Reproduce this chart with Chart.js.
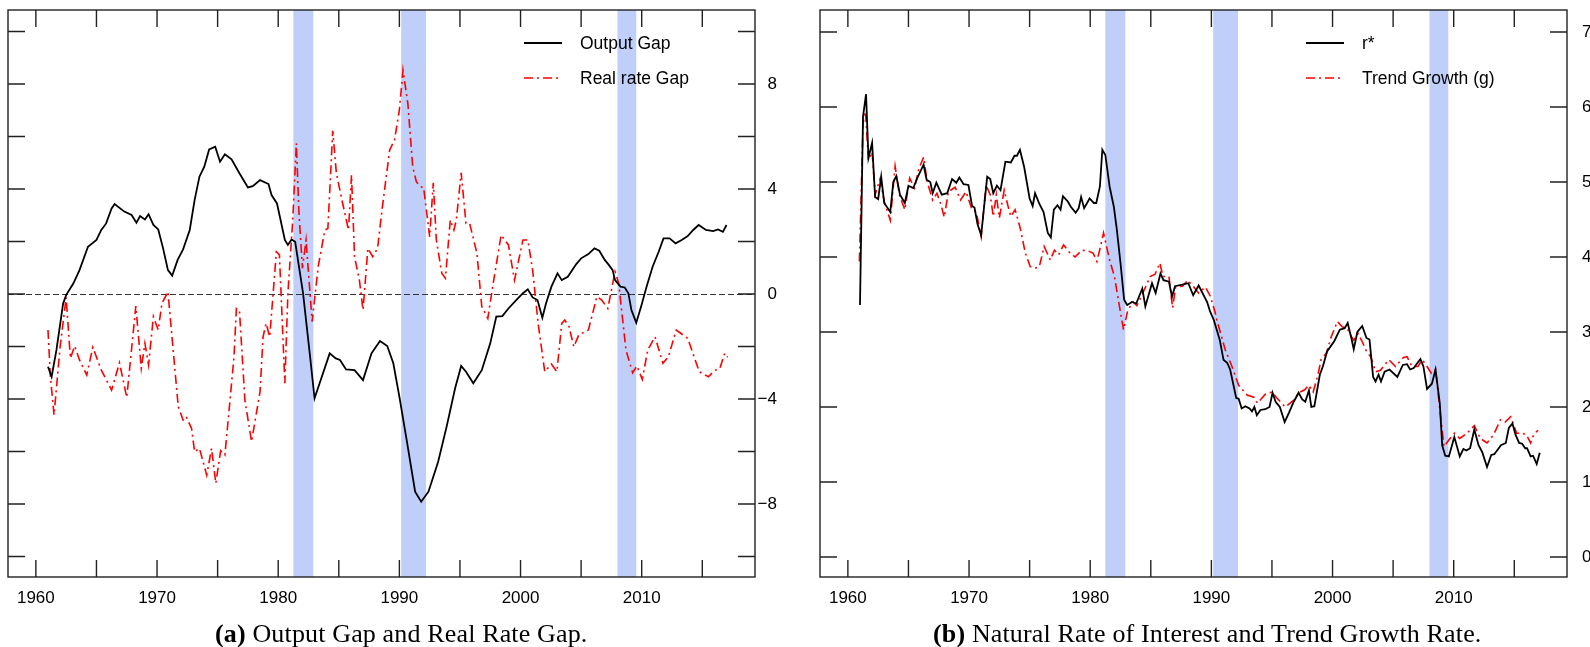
<!DOCTYPE html>
<html>
<head>
<meta charset="utf-8">
<script src="https://cdn.jsdelivr.net/npm/chart.js@4"></script>
<style>
  body { margin: 0; background: #fff; }
  canvas { position: absolute; top: 0; }
  .cap { position: absolute; top: 621px; font: 26px/26px "Liberation Serif", serif; letter-spacing: 0.15px; color: #000; white-space: nowrap; }
</style>
</head>
<body>
<canvas id="gap" width="790" height="620" style="left:0"></canvas>
<canvas id="nat" width="800" height="620" style="left:790px"></canvas>
<div class="cap" style="left:215px"><b>(a)</b> Output Gap and Real Rate Gap.</div>
<div class="cap" style="left:933px"><b>(b)</b> Natural Rate of Interest and Trend Growth Rate.</div>
<script>
// recessions (shaded)
var recStart = [1981.25, 1990.15, 2008.0];
var recEnd = [1982.9, 1992.2, 2009.55];

var xTickYears = [1960, 1965, 1970, 1975, 1980, 1985, 1990, 1995, 2000, 2005, 2010, 2015];
var gapTicks = [-10, -8, -6, -4, -2, 0, 2, 4, 6, 8, 10];
var natTicks = [0, 1, 2, 3, 4, 5, 6, 7];

// panel (a)
var gapYears = [1961.0, 1961.3, 1961.7, 1962.25, 1962.5, 1963.1, 1963.6, 1964.3, 1965.0, 1965.4, 1965.8, 1966.25, 1966.5,
  1967.3, 1967.9, 1968.3, 1968.6, 1969.0, 1969.3, 1969.7, 1970.1, 1970.5, 1970.9, 1971.25, 1971.7, 1972.15, 1972.7,
  1973.1, 1973.5, 1973.9, 1974.3, 1974.8, 1975.2, 1975.6, 1976.15, 1976.8, 1977.5, 1977.9, 1978.5, 1979.2, 1979.45,
  1979.9, 1980.55, 1980.8, 1981.1, 1981.4, 1982.05, 1982.6, 1983.0, 1983.6, 1984.25, 1984.75, 1985.1, 1985.6, 1986.3,
  1987.0, 1987.7, 1988.4, 1989.0, 1989.5, 1990.0, 1990.6, 1991.3, 1991.8, 1992.4, 1992.8, 1993.2, 1993.9, 1994.6,
  1995.1, 1995.5, 1996.1, 1996.8, 1997.5, 1998.0, 1998.5, 1999.0, 1999.7, 2000.2, 2000.6, 2001.0, 2001.4, 2001.8,
  2002.1, 2002.55, 2003.05, 2003.4, 2003.9, 2004.6, 2005.0, 2005.6, 2006.1, 2006.5, 2006.95, 2007.3, 2007.6, 2007.8,
  2008.25, 2008.6, 2008.9, 2009.15, 2009.55, 2009.95, 2010.4, 2010.9, 2011.4, 2011.8, 2012.3, 2012.8, 2013.3, 2013.8,
  2014.25, 2014.7, 2015.3, 2015.9, 2016.3, 2016.7, 2017.0];
var outputGap = [-2.77, -3.15, -2.13, -0.36, -0.04, 0.41, 0.91, 1.80, 2.06, 2.44, 2.69, 3.26, 3.43,
  3.14, 3.01, 2.72, 2.97, 2.84, 3.04, 2.63, 2.46, 1.74, 0.91, 0.70, 1.30, 1.70, 2.44,
  3.58, 4.47, 4.85, 5.51, 5.61, 5.04, 5.32, 5.13, 4.60, 4.06, 4.11, 4.34, 4.19, 3.77,
  3.45, 2.06, 1.87, 2.08, 1.99, 0.03, -2.25, -3.97, -3.15, -2.26, -2.45, -2.51, -2.87, -2.90,
  -3.28, -2.26, -1.79, -1.98, -2.64, -3.91, -5.56, -7.53, -7.91, -7.53, -6.96, -6.39, -5.05, -3.59,
  -2.74, -2.96, -3.40, -2.90, -1.88, -0.86, -0.84, -0.55, -0.20, 0.03, 0.18, -0.13, -0.23, -0.90,
  -0.36, 0.28, 0.79, 0.53, 0.66, 1.14, 1.36, 1.52, 1.74, 1.65, 1.30, 1.10, 0.91, 0.53,
  0.28, 0.25, 0.03, -0.61, -1.09, -0.48, 0.28, 1.04, 1.61, 2.12, 2.12, 1.93, 2.06, 2.21,
  2.44, 2.63, 2.44, 2.40, 2.46, 2.37, 2.63];

var rrgYears = [1961.0, 1961.2, 1961.5, 1962.0, 1962.5, 1962.85, 1963.2, 1963.6, 1964.2, 1964.7, 1965.4, 1966.25, 1966.9,
  1967.5, 1968.25, 1968.7, 1969.0, 1969.3, 1969.7, 1970.1, 1970.4, 1970.9, 1971.75, 1972.15, 1972.4, 1972.85, 1973.1,
  1973.5, 1974.1, 1974.5, 1974.85, 1975.25, 1975.6, 1976.0, 1976.35, 1976.55, 1976.8, 1977.25, 1977.8, 1978.5, 1978.75,
  1979.0, 1979.3, 1979.85, 1980.1, 1980.55, 1980.8, 1981.2, 1981.5, 1981.7, 1982.0, 1982.3, 1982.8, 1983.3, 1983.85,
  1984.1, 1984.5, 1984.8, 1985.2, 1985.8, 1986.05, 1986.3, 1986.7, 1987.0, 1987.4, 1987.8, 1988.2, 1988.6, 1989.2,
  1989.6, 1990.0, 1990.3, 1990.7, 1991.1, 1991.4, 1991.75, 1992.0, 1992.5, 1992.8, 1993.05, 1993.5, 1993.8, 1994.2,
  1994.5, 1994.7, 1995.1, 1995.5, 1995.8, 1996.4, 1996.8, 1997.3, 1997.7, 1998.4, 1999.0, 1999.5, 2000.2, 2000.6,
  2001.0, 2001.45, 2002.0, 2002.55, 2003.0, 2003.4, 2003.65, 2004.0, 2004.4, 2004.8, 2005.6, 2006.3, 2006.7, 2007.2,
  2007.8, 2008.1, 2008.7, 2009.25, 2009.6, 2010.05, 2010.5, 2011.1, 2011.75, 2012.2, 2012.85, 2013.8, 2014.75, 2015.5,
  2016.0, 2016.45, 2016.85, 2017.1];
var realRateGap = [-1.37, -3.15, -4.61, -2.01, -0.13, -2.45, -1.98, -2.51, -3.09, -2.03, -2.90, -3.66, -2.62,
  -3.94, -0.46, -2.83, -1.88, -2.70, -0.86, -1.37, -0.36, 0.09, -4.29, -4.80, -4.67, -5.12, -6.01,
  -5.88, -6.90, -5.88, -7.21, -5.97, -6.13, -4.16, -2.39, -0.55, -0.61, -4.04, -5.62, -3.72, -1.63,
  -1.12, -1.63, 1.61, 1.49, -3.40, 0.03, 2.82, 5.74, 3.20, 0.98, 2.06, -1.05, 1.04, 2.44,
  2.50, 6.22, 4.60, 3.71, 2.44, 4.53, 1.42, 0.53, -0.61, 1.74, 1.42, 1.74, 3.33, 5.49,
  5.87, 7.01, 8.53, 7.26, 4.85, 4.28, 4.09, 4.06, 2.18, 4.24, 2.06, 0.79, 0.60, 2.82,
  2.44, 2.82, 4.62, 2.69, 2.69, 1.55, -0.48, -0.93, 0.28, 2.25, 1.87, 0.53, 2.06, 2.06,
  0.91, -1.12, -2.96, -2.67, -2.96, -1.12, -0.99, -1.24, -2.01, -1.56, -1.37, -0.10, -0.23, -0.55,
  0.85, 0.41, -2.13, -3.00, -2.74, -3.25, -2.13, -1.63, -2.64, -2.39, -1.37, -1.69, -2.96, -3.15,
  -2.92, -2.83, -2.26, -2.41];

// panel (b)
var rStarYears = [1961.0, 1961.25, 1961.5, 1961.7, 1962.0, 1962.25, 1962.5, 1962.75, 1963.0, 1963.5, 1963.75, 1964.0,
  1964.3, 1964.7, 1965.0, 1965.4, 1965.75, 1966.25, 1966.5, 1966.8, 1967.0, 1967.3, 1967.75, 1968.2, 1968.6, 1968.95,
  1969.2, 1969.55, 1969.95, 1970.25, 1970.45, 1970.7, 1971.0, 1971.5, 1971.75, 1972.0, 1972.3, 1972.6, 1973.0, 1973.45,
  1973.75, 1973.95, 1974.2, 1974.55, 1975.0, 1975.25, 1975.45, 1975.8, 1976.15, 1976.5, 1976.75, 1977.0, 1977.3,
  1977.55, 1977.75, 1978.15, 1978.4, 1978.8, 1979.05, 1979.25, 1979.5, 1979.95, 1980.3, 1980.5, 1980.8, 1981.0,
  1981.25, 1981.6, 1981.95, 1982.2, 1982.5, 1982.8, 1983.05, 1983.45, 1983.8, 1984.3, 1984.55, 1985.1, 1985.4, 1985.8,
  1986.05, 1986.5, 1986.75, 1987.0, 1987.6, 1988.1, 1988.5, 1988.95, 1989.65, 1989.9, 1990.2, 1990.7, 1991.0, 1991.3,
  1991.55, 1992.05, 1992.25, 1992.5, 1992.8, 1993.15, 1993.35, 1993.55, 1993.75, 1994.05, 1994.45, 1994.8, 1995.05,
  1995.3, 1995.65, 1996.05, 1996.4, 1996.8, 1997.2, 1997.5, 1997.75, 1998.05, 1998.25, 1998.5, 1998.95, 1999.2,
  1999.55, 2000.15, 2000.6, 2001.0, 2001.25, 2001.55, 2001.75, 2002.05, 2002.45, 2002.8, 2003.05, 2003.35, 2003.55,
  2003.8, 2004.0, 2004.3, 2004.7, 2005.35, 2005.8, 2006.15, 2006.4, 2006.7, 2007.25, 2007.5, 2007.8, 2008.2, 2008.5,
  2008.85, 2009.05, 2009.3, 2009.6, 2010.05, 2010.5, 2010.8, 2011.05, 2011.35, 2011.7, 2012.05, 2012.35, 2012.75,
  2013.1, 2013.35, 2013.9, 2014.3, 2014.55, 2014.85, 2015.1, 2015.4, 2015.65, 2015.9, 2016.05, 2016.35, 2016.55,
  2016.85, 2017.1];
var rStar = [3.36, 5.87, 6.17, 5.32, 5.52, 4.80, 4.77, 5.07, 4.72, 4.60, 5.00, 5.08,
  4.83, 4.72, 4.95, 4.92, 5.06, 5.23, 5.03, 5.00, 4.85, 4.99, 4.83, 4.85, 5.04, 4.99,
  5.06, 4.97, 4.96, 4.68, 4.66, 4.44, 4.29, 5.07, 5.04, 4.85, 4.95, 4.89, 5.27, 5.26,
  5.35, 5.35, 5.43, 5.20, 4.78, 4.68, 4.85, 4.71, 4.60, 4.32, 4.26, 4.63, 4.69,
  4.63, 4.81, 4.74, 4.67, 4.59, 4.65, 4.80, 4.65, 4.78, 4.72, 4.72, 4.94, 5.43,
  5.36, 4.94, 4.67, 4.36, 3.92, 3.43, 3.36, 3.40, 3.38, 3.58, 3.34, 3.65, 3.52, 3.78,
  3.69, 3.67, 3.47, 3.61, 3.63, 3.65, 3.49, 3.62, 3.40, 3.27, 3.16, 2.89, 2.63, 2.59,
  2.50, 2.12, 2.11, 1.98, 2.01, 1.98, 1.94, 2.00, 1.89, 1.96, 1.97, 2.00, 2.19,
  2.07, 2.00, 1.80, 1.92, 2.07, 2.19, 2.10, 2.07, 2.22, 2.00, 2.01, 2.43, 2.54,
  2.74, 2.88, 3.03, 3.05, 3.12, 2.92, 2.77, 3.00, 3.08, 2.92, 2.90, 2.40, 2.34,
  2.43, 2.34, 2.47, 2.50, 2.40, 2.56, 2.57, 2.50, 2.52, 2.64, 2.54, 2.24, 2.31, 2.50,
  2.05, 1.49, 1.35, 1.34, 1.60, 1.34, 1.44, 1.42, 1.45, 1.70, 1.49, 1.40, 1.20,
  1.36, 1.37, 1.49, 1.52, 1.72, 1.78, 1.63, 1.52, 1.51, 1.45, 1.45, 1.34, 1.35,
  1.24, 1.39];

var growthYears = [1960.95, 1961.25, 1961.45, 1961.7, 1962.0, 1962.25, 1962.65, 1963.0, 1963.5, 1963.9, 1964.25, 1964.7,
  1965.1, 1965.5, 1965.85, 1966.25, 1966.55, 1967.0, 1967.35, 1967.7, 1967.95, 1968.3, 1968.85, 1969.3, 1969.75,
  1970.25, 1970.6, 1971.0, 1971.4, 1971.75, 1972.0, 1972.25, 1972.5, 1972.9, 1973.2, 1973.45, 1973.8, 1974.2,
  1974.65, 1975.05, 1975.45, 1975.8, 1976.2, 1976.7, 1977.05, 1977.4, 1977.8, 1978.35, 1978.75, 1979.3, 1979.85,
  1980.25, 1980.55, 1980.85, 1981.1, 1981.6, 1982.0, 1982.35, 1982.75, 1983.1, 1983.55, 1983.85, 1984.4, 1984.95,
  1985.35, 1985.75, 1986.0, 1986.5, 1986.8, 1987.05, 1987.6, 1988.05, 1988.55, 1988.95, 1989.5, 1989.9, 1990.3,
  1990.45, 1991.15, 1991.7, 1992.25, 1992.95, 1993.5, 1993.8, 1994.45, 1995.0, 1995.4, 1996.1, 1996.8, 1997.2,
  1997.7, 1998.05, 1998.4, 1998.8, 1999.05, 1999.5, 1999.9, 2000.4, 2000.8, 2001.2, 2001.55, 2001.75, 2002.1,
  2002.45, 2002.8, 2003.15, 2003.55, 2003.95, 2004.65, 2005.2, 2005.85, 2006.15, 2006.55, 2007.05, 2007.4, 2007.8,
  2008.15, 2008.5, 2008.85, 2009.2, 2009.6, 2010.05, 2010.5, 2011.1, 2011.7, 2012.2, 2012.75, 2013.3, 2013.85,
  2014.25, 2014.7, 2015.2, 2015.65, 2016.0, 2016.35, 2016.6, 2016.95];
var trendGrowth = [3.94, 5.78, 5.94, 5.29, 5.40, 4.83, 5.04, 4.74, 4.49, 5.21, 4.83, 4.63,
  5.05, 4.92, 5.17, 5.33, 5.00, 4.76, 4.85, 4.69, 4.53, 4.87, 4.93, 4.76, 4.87,
  4.63, 4.60, 4.27, 4.96, 4.83, 4.54, 4.83, 4.52, 4.89, 4.69, 4.54, 4.63, 4.40,
  4.05, 3.87, 3.85, 3.87, 4.14, 3.96, 4.09, 4.03, 4.16, 4.05, 4.00, 4.09, 4.08,
  4.05, 3.94, 4.14, 4.32, 3.96, 3.74, 3.40, 3.03, 3.29, 3.40, 3.35, 3.54, 3.74,
  3.77, 3.92, 3.74, 3.74, 3.32, 3.60, 3.61, 3.69, 3.60, 3.52, 3.60, 3.48, 3.27,
  3.16, 2.76, 2.54, 2.29, 2.16, 2.13, 2.05, 2.17, 2.20, 2.12, 2.00, 2.09, 2.19,
  2.23, 2.29, 2.20, 2.43, 2.63, 2.72, 2.94, 3.14, 3.07, 3.05, 2.94, 2.89, 2.98,
  2.87, 2.74, 2.67, 2.47, 2.49, 2.63, 2.54, 2.66, 2.67, 2.54, 2.54, 2.63, 2.54,
  2.45, 2.50, 1.98, 1.47, 1.56, 1.65, 1.58, 1.65, 1.75, 1.58, 1.52, 1.63, 1.83,
  1.80, 1.87, 1.65, 1.65, 1.63, 1.52, 1.63, 1.69];

function pts(xs, ys) {
  return xs.map(function (x, i) { return { x: x, y: ys[i] }; });
}

var tickFont = { family: 'Liberation Sans', size: 17 };

// shading, zero line, inward ticks, box and legend
var decor = {
  id: 'decor',
  beforeDatasetsDraw: function (chart, args, o) {
    var ctx = chart.ctx, a = chart.chartArea, x = chart.scales.x, y = chart.scales.y;
    ctx.save();
    ctx.fillStyle = '#bfcffa';
    recStart.forEach(function (s, i) {
      var x0 = x.getPixelForValue(s), x1 = x.getPixelForValue(recEnd[i]);
      ctx.fillRect(x0, a.top, x1 - x0, a.bottom - a.top);
    });
    if (o.zeroLine) {
      var yz = Math.round(y.getPixelForValue(0)) + 0.5;
      ctx.strokeStyle = '#333';
      ctx.lineWidth = 1;
      ctx.setLineDash([6, 3]);
      ctx.beginPath();
      ctx.moveTo(a.left, yz);
      ctx.lineTo(a.right, yz);
      ctx.stroke();
    }
    ctx.restore();
  },
  afterDatasetsDraw: function (chart, args, o) {
    var ctx = chart.ctx, a = chart.chartArea, x = chart.scales.x, y = chart.scales.y;
    var len = 17;
    ctx.save();
    ctx.strokeStyle = '#222';
    ctx.lineWidth = 1.4;
    ctx.beginPath();
    x.ticks.forEach(function (t) {
      var px = x.getPixelForValue(t.value);
      ctx.moveTo(px, a.bottom); ctx.lineTo(px, a.bottom - len);
      ctx.moveTo(px, a.top); ctx.lineTo(px, a.top + len);
    });
    y.ticks.forEach(function (t) {
      var py = y.getPixelForValue(t.value);
      ctx.moveTo(a.left, py); ctx.lineTo(a.left + len, py);
      ctx.moveTo(a.right, py); ctx.lineTo(a.right - len, py);
    });
    ctx.stroke();
    ctx.strokeRect(a.left, a.top, a.right - a.left, a.bottom - a.top);

    // legend
    ctx.font = '17.5px "Liberation Sans"';
    ctx.fillStyle = '#000';
    ctx.textBaseline = 'middle';
    chart.data.datasets.forEach(function (ds, i) {
      var ly = a.top + o.legendTop + i * 35;
      var lx = a.left + o.legendLeft;
      ctx.strokeStyle = ds.borderColor;
      ctx.lineWidth = ds.borderWidth;
      ctx.setLineDash(ds.borderDash || []);
      ctx.beginPath();
      ctx.moveTo(lx, ly);
      ctx.lineTo(lx + 38, ly);
      ctx.stroke();
      ctx.setLineDash([]);
      ctx.fillText(ds.label, lx + 56, ly + 1);
    });
    ctx.restore();
  }
};

function makeChart(id, datasets, yMin, yMax, yTicks, yLabel, yOpts, padLeft, padRight, yWidth, legendLeft, zeroLine) {
  return new Chart(document.getElementById(id), {
    type: 'line',
    data: { datasets: datasets },
    plugins: [decor],
    options: {
      responsive: false,
      animation: false,
      devicePixelRatio: 1,
      layout: { padding: { left: padLeft, top: 10, right: padRight, bottom: 0 } },
      elements: { point: { radius: 0 }, line: { tension: 0 } },
      plugins: {
        legend: { display: false },
        tooltip: { enabled: false },
        decor: { zeroLine: zeroLine, legendLeft: legendLeft, legendTop: 33 }
      },
      scales: {
        x: {
          type: 'linear',
          min: 1957.7,
          max: 2019.35,
          afterBuildTicks: function (s) { s.ticks = xTickYears.map(function (v) { return { value: v }; }); },
          afterFit: function (s) { s.height = 43; s.paddingLeft = 0; s.paddingRight = 0; },
          grid: { display: false, drawTicks: false },
          border: { display: false },
          ticks: {
            autoSkip: false, maxRotation: 0, padding: 11, font: tickFont, color: '#000',
            callback: function (v) { return v % 10 === 0 ? String(v) : ''; }
          }
        },
        y: {
          type: 'linear',
          position: 'right',
          min: yMin,
          max: yMax,
          afterBuildTicks: function (s) { s.ticks = yTicks.map(function (v) { return { value: v }; }); },
          afterFit: function (s) { s.width = yWidth; s.paddingTop = 0; s.paddingBottom = 0; },
          grid: { display: false, drawTicks: false },
          border: { display: false },
          ticks: Object.assign({ font: tickFont, color: '#000', callback: yLabel }, yOpts)
        }
      }
    }
  });
}

makeChart('gap', [
  { label: 'Output Gap', data: pts(gapYears, outputGap), borderColor: '#000', borderWidth: 1.8 },
  { label: 'Real rate Gap', data: pts(rrgYears, realRateGap), borderColor: '#ff0000', borderWidth: 1.6, borderDash: [9, 4, 2, 4] }
], -10.78, 10.82, gapTicks,
  function (v) { return v % 4 === 0 ? (v < 0 ? '\u2212' + (-v) : String(v)) : ''; },
  { crossAlign: 'far', padding: 2 }, 8, 13, 22, 516, true);

makeChart('nat', [
  { label: 'r*', data: pts(rStarYears, rStar), borderColor: '#000', borderWidth: 1.8 },
  { label: 'Trend Growth (g)', data: pts(growthYears, trendGrowth), borderColor: '#ff0000', borderWidth: 1.6, borderDash: [9, 4, 2, 4] }
], -0.267, 7.293, natTicks,
  function (v) { return String(v); },
  { crossAlign: 'near', padding: 15 }, 30, 0, 23, 486, false);
</script>
</body>
</html>
